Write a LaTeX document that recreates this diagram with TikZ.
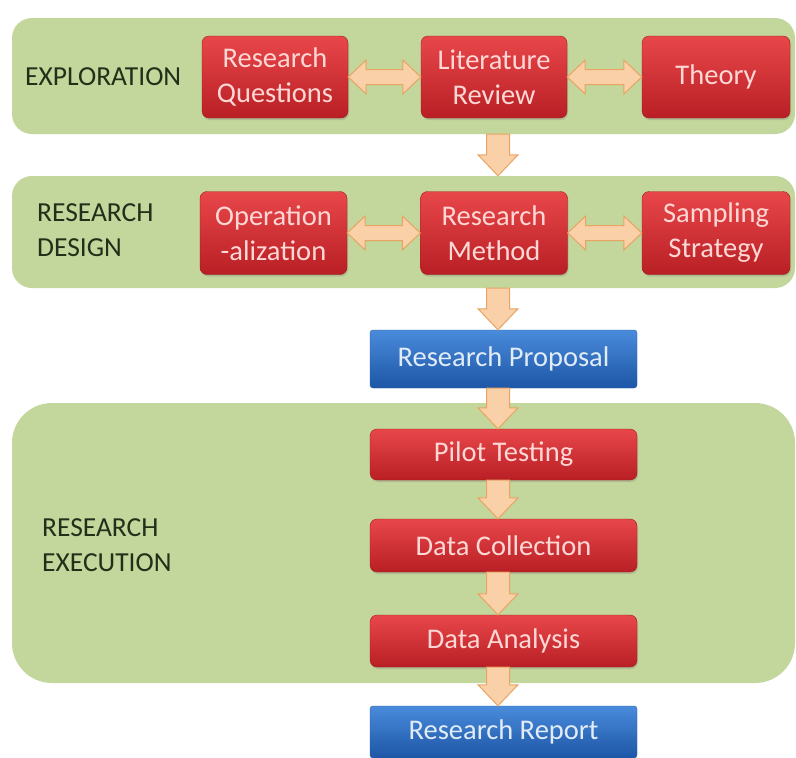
\documentclass[tikz,border=0pt]{standalone}
\usepackage{fontspec}
\setmainfont{Carlito}
\usetikzlibrary{calc,shadows}

\definecolor{panelgreen}{HTML}{C3D69B}
\definecolor{stagetext}{HTML}{22301A}
\definecolor{redtop}{HTML}{E8474A}
\definecolor{redbot}{HTML}{B81F24}
\definecolor{redline}{HTML}{9E1B1E}
\definecolor{redtext}{HTML}{FFD8D6}
\definecolor{bluetop}{HTML}{4A8BDB}
\definecolor{bluebot}{HTML}{1D56A6}
\definecolor{blueline}{HTML}{2A5EA0}
\definecolor{bluetext}{HTML}{E2ECF8}
\definecolor{arrowfill}{HTML}{FAD0A8}
\definecolor{arrowline}{HTML}{E9A462}

\tikzset{
  panel/.style={fill=panelgreen, rounded corners=20pt, inner sep=0pt, minimum width=783pt},
  stage/.style={font=\fontsize{27.5}{35}\selectfont, text=stagetext, align=left, anchor=west, inner sep=0pt},
  redbox/.style={draw=redline, top color=redtop, bottom color=redbot, rounded corners=7pt,
    text=redtext, font=\fontsize{28.5}{35}\selectfont, align=center, inner sep=0pt,
    drop shadow={opacity=0.3, shadow xshift=1pt, shadow yshift=-2pt}},
  widebox/.style={redbox, minimum width=267pt},
  bluebox/.style={draw=blueline, top color=bluetop, bottom color=bluebot, rounded corners=3pt,
    text=bluetext, font=\fontsize{28.5}{35}\selectfont, inner sep=0pt,
    minimum width=267pt, minimum height=58pt},
  blockarrow/.style={fill=arrowfill, draw=arrowline, line width=1pt, line join=miter},
}

% two-headed block arrow from the east side of #1 to the west side of #2
\newcommand{\twoway}[2]{%
  \draw[blockarrow] let \p1=(#1.east), \p2=(#2.west) in
    (\x1,\y1) -- (\x1+18pt,\y1+17pt) -- (\x1+18pt,\y1+7.5pt) -- (\x2-18pt,\y1+7.5pt)
    -- (\x2-18pt,\y1+17pt) -- (\x2,\y1) -- (\x2-18pt,\y1-17pt) -- (\x2-18pt,\y1-7.5pt)
    -- (\x1+18pt,\y1-7.5pt) -- (\x1+18pt,\y1-17pt) -- cycle;}

% downward block arrow from #1 to #2 along the axis ax
\newcommand{\oneway}[2]{%
  \draw[blockarrow] let \p1=(#1.south -| ax), \p2=(#2.north -| ax) in
    (\x1-11.5pt,\y1) -- (\x1+11.5pt,\y1) -- (\x1+11.5pt,\y2+21pt) -- (\x1+20pt,\y2+21pt)
    -- (\x1,\y2) -- (\x1-20pt,\y2+21pt) -- (\x1-11.5pt,\y2+21pt) -- cycle;}

\begin{document}
\begin{tikzpicture}[x=1pt, y=-1pt]
    \useasboundingbox[fill=white] (0,0) rectangle (796,758);
    \coordinate (ax) at (498,0);

    % Draw panels
    \node[panel, minimum height=116pt] (explore) at (403.5,76) {};
    \node[panel, minimum height=112pt] (design) at (403.5,232) {};
    \node[panel, minimum height=280pt, rounded corners=40pt] (execute) at (403.5,543) {};

    \node[stage] (explorelabel) at (25,77) {EXPLORATION};
    \node[stage] (designlabel) at (37,230.5) {RESEARCH\\DESIGN};
    \node[stage] (executelabel) at (42,545) {RESEARCH\\EXECUTION};

    % Draw nodes
    \node[redbox, minimum width=146pt, minimum height=82pt] (questions) at (275,77) {Research\\Questions};
    \node[redbox, minimum width=146pt, minimum height=82pt] (literature) at (494,77) {Literature\\Review};
    \node[redbox, minimum width=148pt, minimum height=82pt] (theory) at (716,77) {Theory};

    \node[redbox, minimum width=147pt, minimum height=83pt] (operation) at (273.5,233) {Operation\\-alization};
    \node[redbox, minimum width=147pt, minimum height=83pt] (method) at (494,233) {Research\\Method};
    \node[redbox, minimum width=148pt, minimum height=83pt] (sampling) at (716,233) {Sampling\\Strategy};

    \node[bluebox] (proposal) at (503.5,359) {Research Proposal};
    \node[widebox, minimum height=51pt] (pilot) at (503.5,454.5) {Pilot Testing};
    \node[widebox, minimum height=53pt] (collect) at (503.5,545.5) {Data Collection};
    \node[widebox, minimum height=52pt] (analysis) at (503.5,641) {Data Analysis};
    \node[bluebox, minimum height=52pt] (report) at (503.5,732) {Research Report};

    % Draw edges
    \oneway{explore}{design}
    \oneway{design}{proposal}
    \oneway{proposal}{pilot}
    \oneway{pilot}{collect}
    \oneway{collect}{analysis}
    \oneway{analysis}{report}

    \twoway{questions}{literature}
    \twoway{literature}{theory}
    \twoway{operation}{method}
    \twoway{method}{sampling}
\end{tikzpicture}
\end{document}
